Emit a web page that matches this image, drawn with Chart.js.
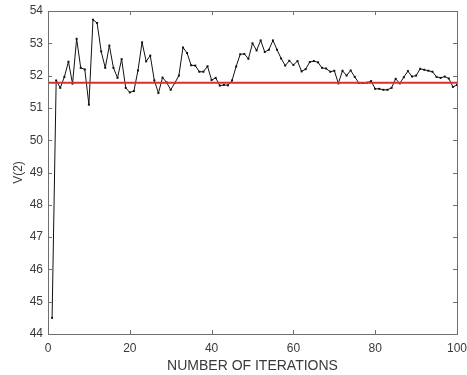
<!DOCTYPE html>
<html>
<head>
<meta charset="utf-8">
<script src="https://cdn.jsdelivr.net/npm/chart.js@4.4.1/dist/chart.umd.min.js"></script>
<style>
  html, body { margin: 0; padding: 0; background: #fff; }
  #wrap { width: 467px; height: 375px; position: relative; }
</style>
</head>
<body>
<div id="wrap"><canvas id="c"></canvas></div>
<script>
// iteration index 1..100
const iterations = Array.from({ length: 100 }, (_, i) => i + 1);

// V(2) estimate at each iteration
const vValues = [
  44.50, 51.85, 51.62, 51.96, 52.43, 51.75, 53.14, 52.24, 52.19, 51.10,
  53.73, 53.63, 52.75, 52.24, 52.93, 52.24, 51.93, 52.51, 51.62, 51.48,
  51.52, 52.16, 53.03, 52.44, 52.62, 51.85, 51.46, 51.94, 51.79, 51.56,
  51.77, 52.00, 52.87, 52.70, 52.32, 52.31, 52.12, 52.12, 52.29, 51.86,
  51.93, 51.69, 51.71, 51.70, 51.85, 52.28, 52.66, 52.67, 52.52, 53.00,
  52.78, 53.09, 52.73, 52.80, 53.09, 52.80, 52.53, 52.31, 52.46, 52.33,
  52.45, 52.13, 52.20, 52.42, 52.45, 52.41, 52.24, 52.22, 52.12, 52.15,
  51.76, 52.15, 52.00, 52.16, 51.96, 51.77, 51.77, 51.78, 51.83, 51.59,
  51.59, 51.56, 51.56, 51.62, 51.90, 51.76, 51.95, 52.14, 51.97, 52.00,
  52.21, 52.18, 52.15, 52.12, 51.96, 51.93, 51.97, 51.91, 51.65, 51.71
];

// horizontal reference level (red line)
const refLevel = 51.78;
const refRange = [0, 100];

const xTicks = [0, 20, 40, 60, 80, 100];
const yTicks = [44, 45, 46, 47, 48, 49, 50, 51, 52, 53, 54];

const AXIS_COLOR = '#6f6f6f';
const TEXT_COLOR = '#3a3a3a';
const FONT = 'Liberation Sans, Arial, sans-serif';

// box around the plot plus inward ticks on all four sides
const boxPlugin = {
    id: 'matlabBox',
    afterDraw(chart) {
        const { ctx, chartArea: a, scales } = chart;
        ctx.save();
        ctx.strokeStyle = AXIS_COLOR;
        ctx.lineWidth = 1;
        ctx.strokeRect(a.left + 0.5, a.top + 0.5, a.right - a.left, a.bottom - a.top);
        const len = 4;
        ctx.beginPath();
        xTicks.forEach(v => {
            const px = Math.round(scales.x.getPixelForValue(v)) + 0.5;
            ctx.moveTo(px, a.bottom); ctx.lineTo(px, a.bottom - len);
            ctx.moveTo(px, a.top); ctx.lineTo(px, a.top + len);
        });
        yTicks.forEach(v => {
            const py = Math.round(scales.y.getPixelForValue(v)) + 0.5;
            ctx.moveTo(a.left, py); ctx.lineTo(a.left + len, py);
            ctx.moveTo(a.right, py); ctx.lineTo(a.right - len, py);
        });
        ctx.stroke();
        ctx.restore();
    }
};

new Chart(document.getElementById('c'), {
    type: 'scatter',
    data: {
        datasets: [
            {
                data: iterations.map((x, i) => ({ x, y: vValues[i] })),
                showLine: true,
                borderColor: '#111',
                backgroundColor: '#111',
                borderWidth: 1,
                pointRadius: 1.4,
                pointStyle: 'rect',
                pointBorderWidth: 0,
                order: 1
            },
            {
                data: refRange.map(x => ({ x, y: refLevel })),
                showLine: true,
                borderColor: '#d9302c',
                borderWidth: 2,
                pointRadius: 0,
                order: 0
            }
        ]
    },
    options: {
        responsive: true,
        maintainAspectRatio: false,
        animation: false,
        layout: { padding: { top: 11, right: 10, left: 0, bottom: 0 } },
        plugins: { legend: { display: false }, tooltip: { enabled: false } },
        scales: {
            x: {
                type: 'linear',
                min: 0, max: 100,
                afterBuildTicks: s => { s.ticks = xTicks.map(v => ({ value: v })); },
                afterFit: s => { s.height = 41; s.paddingLeft = 0; s.paddingRight = 0; },
                grid: { display: false, drawTicks: false },
                border: { display: false },
                ticks: { color: TEXT_COLOR, font: { family: FONT, size: 12 }, padding: 7, maxRotation: 0 },
                title: {
                    display: true, text: 'NUMBER OF ITERATIONS',
                    color: TEXT_COLOR, font: { family: FONT, size: 14 }, padding: { top: 0, bottom: 0 }
                }
            },
            y: {
                type: 'linear',
                min: 44, max: 54,
                afterBuildTicks: s => { s.ticks = yTicks.map(v => ({ value: v })); },
                afterFit: s => { s.width = 48; s.paddingTop = 0; s.paddingBottom = 0; },
                grid: { display: false, drawTicks: false },
                border: { display: false },
                ticks: { color: TEXT_COLOR, font: { family: FONT, size: 12 }, padding: 5 },
                title: {
                    display: true, text: 'V(2)',
                    color: TEXT_COLOR, font: { family: FONT, size: 12 }, padding: { top: 11, bottom: 0 }
                }
            }
        }
    },
    plugins: [boxPlugin]
});
</script>
</body>
</html>
